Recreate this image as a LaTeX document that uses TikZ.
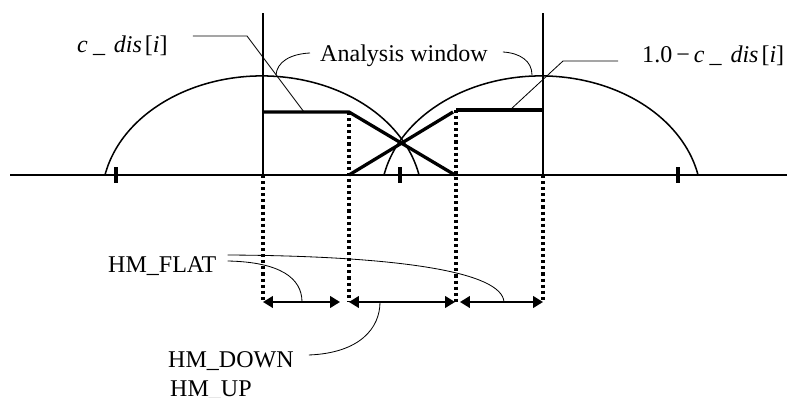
\documentclass[tikz,border=0pt]{standalone}
\usepackage{fontspec}
\setmainfont{Liberation Serif}
\usetikzlibrary{arrows.meta,positioning,calc}

\newcommand{\cdisterm}{\textit{c}\hspace{4.5pt}\_\hspace{7.5pt}\textit{dis}\hspace{2.5pt}[\textit{i}]}

\begin{document}
\begin{tikzpicture}[x=0.03cm, y=0.03cm, >={Triangle[length=8.5pt,width=10pt]}]
  \tikzset{
    axisline/.style={line width=1.7pt},
    winarc/.style={line width=1.3pt},
    weightline/.style={line width=2.8pt},
    guide/.style={line width=2.8pt, dash pattern=on 2.6pt off 2.6pt},
    dimline/.style={line width=1.6pt, <->},
    leader/.style={line width=0.7pt},
    txt/.style={font=\fontsize{20.5}{24}\selectfont, inner sep=0pt},
    tickmark/.style={line width=4.2pt}
  }
  \useasboundingbox (0,0) rectangle (787,398);

  % Key points on the axis
  \coordinate (axisL) at (10,223);
  \coordinate (axisR) at (787,223);
  \coordinate (winL) at (263,223);
  \coordinate (winR) at (543,223);
  \coordinate (rampL) at (349,223);
  \coordinate (rampR) at (455,223);
  \coordinate (flatL) at (349,286);
  \coordinate (flatR) at (456,288);

  % Axis and window borders
  \draw[axisline] (axisL) -- (axisR);
  \draw[axisline] (winL) -- (263,385);
  \draw[axisline] (winR) -- (543,385);

  % Tick marks
  \foreach \x in {116,400,678}
    \draw[tickmark] (\x,215) -- (\x,231);

  % Analysis windows
  \draw[winarc] (105,223) arc[start angle=168.4, end angle=11.6, x radius=160.3, y radius=124];
  \draw[winarc] (384,223) arc[start angle=168.4, end angle=11.6, x radius=160.3, y radius=124];

  % Weighting curves
  \draw[weightline] (263,286) -- (flatL) -- (rampR);
  \draw[weightline] (rampL) -- (453,286);
  \draw[weightline] (flatR) -- (543,288);

  % Dotted guides
  \coordinate (g1) at (263,96);
  \coordinate (g2) at (349,96);
  \coordinate (g3) at (456,96);
  \coordinate (g4) at (543,96);
  \draw[guide] (winL) -- (g1);
  \draw[guide] (flatL) -- (g2);
  \draw[guide] (flatR) -- (g3);
  \draw[guide] (winR) -- (g4);

  % Dimension arrows
  \draw[dimline] (g1) -- (340,96);
  \draw[dimline] (g2) -- (455,96);
  \draw[dimline] (460,96) -- (g4);

  % Labels
  \node[txt, anchor=base west] (cdis) at (77,345) {\cdisterm};
  \node[txt, anchor=base west] (invcdis) at (642,335) {1.0\,−\,\cdisterm};
  \node[txt, anchor=base west] (window) at (320,336) {Analysis window};
  \node[txt, anchor=base west] (flat) at (108,125) {HM\_FLAT};
  \node[txt, anchor=base west] (down) at (168,30) {HM\_DOWN};
  \node[txt, anchor=base west] (up) at (170,1) {HM\_UP};

  % Leaders
  \draw[leader] ([shift={(25,17)}]cdis.base east) -- (247,362) -- (304,286);
  \draw[leader] ([shift={(-24,2)}]invcdis.base west) -- (563,337) -- (510,288);
  \draw[leader] ([shift={(-10,9)}]window.base west) .. controls (290,344) and (277,336) .. (276,323);
  \draw[leader] ([shift={(15,10)}]window.base east) .. controls (520,345) and (532,337) .. (532,323);
  \draw[leader] ([shift={(11,12)}]flat.base east) .. controls (280,136) and (302,120) .. (302,96);
  \draw[leader] ([shift={(11,18)}]flat.base east) .. controls (400,142) and (502,126) .. (504,96);
  \draw[leader] ([shift={(15,13)}]down.base east) .. controls (360,45) and (380,70) .. (380,96);
\end{tikzpicture}
\end{document}
